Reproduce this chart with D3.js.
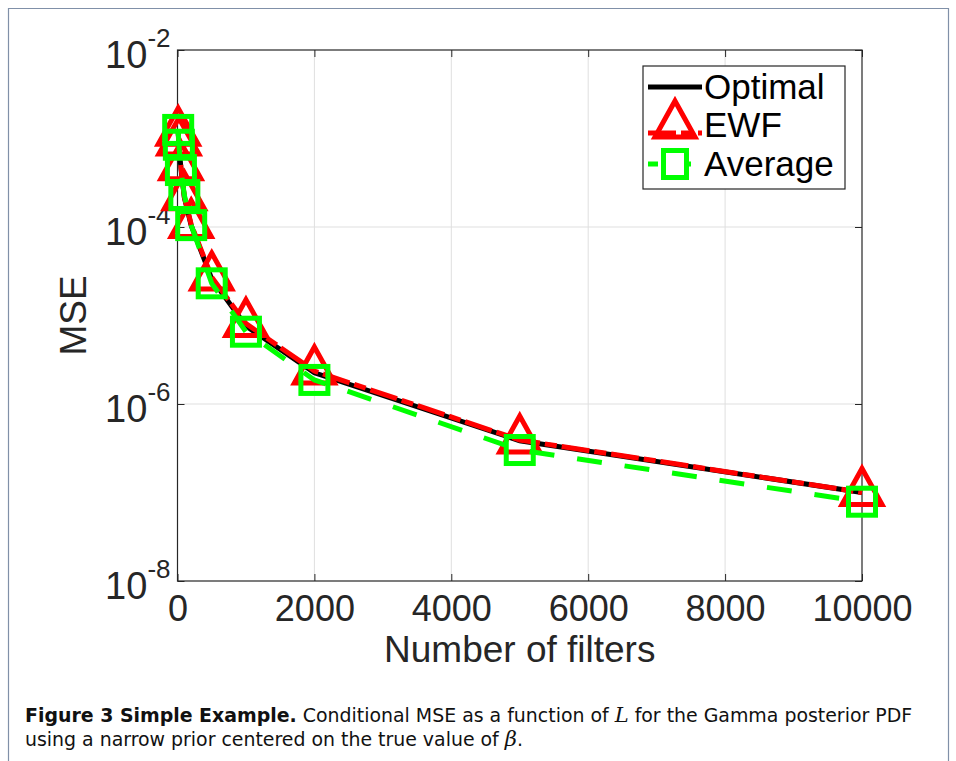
<!DOCTYPE html>
<html><head><meta charset="utf-8">
<script src="https://cdn.jsdelivr.net/npm/d3@7"></script>
<style>body{margin:0;background:#fff} svg{display:block}</style>
</head><body><svg id="c" width="956" height="761"></svg>
<script>
// ---- data ----
const filters = [10, 20, 50, 100, 200, 500, 1000, 2000, 5000, 10000];
const optimal = [1.15e-3, 8.8e-4, 4.6e-4, 2.15e-4, 1.04e-4, 2.6e-5, 7.6e-6, 2.25e-6, 3.85e-7, 1.0e-7];
const ewf     = [1.18e-3, 9.1e-4, 4.8e-4, 2.2e-4, 1.07e-4, 2.72e-5, 8.1e-6, 2.36e-6, 3.92e-7, 1.0e-7];
const average = [1.25e-3, 8.5e-4, 4.4e-4, 2.3e-4, 1.05e-4, 2.31e-5, 6.56e-6, 1.87e-6, 3.02e-7, 7.87e-8];
const xTicks = [0, 2000, 4000, 6000, 8000, 10000];
const yTickExps = [-8, -6, -4, -2];
const seriesNames = ["Optimal", "EWF", "Average"];

const svg = d3.select("#c");
const W = 956, H = 761;
svg.append("rect").attr("width", W).attr("height", H).attr("fill", "#fff");
// page frame
svg.append("path").attr("d", "M8.5,761 V8.5 H948.5 V761").attr("fill", "none")
  .attr("stroke", "#8090a8").attr("stroke-width", 1.2);

const L = 177.5, R = 862, T = 50, B = 581;
const x = d3.scaleLinear().domain([0, 10000]).range([L, R]);
const y = d3.scaleLog().domain([1e-8, 1e-2]).range([B, T]);
const font = "'Liberation Sans', Arial, Helvetica, sans-serif";
const axisCol = "#262626";

// grid
const g = svg.append("g");
g.selectAll(".gx").data(xTicks.slice(1, -1)).join("line")
  .attr("x1", d => x(d)).attr("x2", d => x(d)).attr("y1", T).attr("y2", B)
  .attr("stroke", "#dfdfdf").attr("stroke-width", 1);
g.selectAll(".gy").data(yTickExps.slice(1, -1)).join("line")
  .attr("y1", d => y(Math.pow(10, d))).attr("y2", d => y(Math.pow(10, d))).attr("x1", L).attr("x2", R)
  .attr("stroke", "#dfdfdf").attr("stroke-width", 1);

// axes (inward ticks)
const ax = svg.append("g").attr("transform", `translate(0,${B})`)
  .call(d3.axisBottom(x).tickValues(xTicks).tickSize(-7).tickPadding(14).tickFormat(d3.format("d")));
const axTop = svg.append("g").attr("transform", `translate(0,${T})`)
  .call(d3.axisTop(x).tickValues(xTicks).tickSize(-7).tickFormat(""));
const yv = yTickExps.map(e => Math.pow(10, e));
const ay = svg.append("g").attr("transform", `translate(${L},0)`)
  .call(d3.axisLeft(y).tickValues(yv).tickSize(-7).tickPadding(28).tickFormat(""));
const ayR = svg.append("g").attr("transform", `translate(${R},0)`)
  .call(d3.axisRight(y).tickValues(yv).tickSize(-7).tickFormat(""));
[ax, axTop, ay, ayR].forEach(a => {
  a.select(".domain").remove();
  a.selectAll("line").attr("stroke", axisCol);
});
ax.selectAll("text").attr("font-family", font).attr("font-size", 36).attr("fill", axisCol);
// y labels as 10^e
yTickExps.forEach(e => {
  const t = svg.append("text").attr("x", L - 7).attr("y", y(Math.pow(10, e)) + 18)
    .attr("text-anchor", "end").attr("font-family", font).attr("fill", axisCol).attr("font-size", 38);
  t.append("tspan").text("10");
  t.append("tspan").attr("dy", -21).attr("font-size", 26).text(String(e));
});
// box
svg.append("rect").attr("x", L).attr("y", T).attr("width", R - L).attr("height", B - T)
  .attr("fill", "none").attr("stroke", axisCol).attr("stroke-width", 1.2);

// axis titles
svg.append("text").attr("x", (L + R) / 2).attr("y", 662).attr("text-anchor", "middle")
  .attr("font-family", font).attr("font-size", 37).attr("fill", axisCol).text("Number of filters");
svg.append("text").attr("transform", `translate(86,${(T + B) / 2}) rotate(-90)`).attr("text-anchor", "middle")
  .attr("font-family", font).attr("font-size", 37).attr("fill", axisCol).text("MSE");

// lines
const line = vals => d3.line().x((d, i) => x(filters[i])).y(d => y(d))(vals);
const plot = svg.append("g");
plot.append("path").attr("d", line(optimal)).attr("fill", "none").attr("stroke", "#000")
  .attr("stroke-width", 5);
plot.append("path").attr("d", line(ewf)).attr("fill", "none").attr("stroke", "#ff0000")
  .attr("stroke-width", 5).attr("stroke-dasharray", "28,5,12,5");
const triPath = (cx, cy) => {
  const h = 36, w = 40;
  return `M${cx},${cy - 2 * h / 3} L${cx + w / 2},${cy + h / 3} L${cx - w / 2},${cy + h / 3} Z`;
};
plot.selectAll(".tri").data(ewf).join("path")
  .attr("d", (d, i) => triPath(x(filters[i]), y(d)))
  .attr("fill", "none").attr("stroke", "#ff0000").attr("stroke-width", 5).attr("stroke-linejoin", "miter");
plot.append("path").attr("d", line(average)).attr("fill", "none").attr("stroke", "#00ff00")
  .attr("stroke-width", 5).attr("stroke-dasharray", "25,23");
const S = 27;
plot.selectAll(".sq").data(average).join("rect")
  .attr("x", (d, i) => x(filters[i]) - S / 2).attr("y", d => y(d) - S / 2)
  .attr("width", S).attr("height", S)
  .attr("fill", "none").attr("stroke", "#00ff00").attr("stroke-width", 5);

// legend
const lg = svg.append("g");
lg.append("rect").attr("x", 643).attr("y", 66).attr("width", 202).attr("height", 123)
  .attr("fill", "#fff").attr("stroke", axisCol).attr("stroke-width", 1.2);
const rows = [87, 125, 164];
lg.append("line").attr("x1", 648).attr("x2", 702).attr("y1", rows[0]).attr("y2", rows[0])
  .attr("stroke", "#000").attr("stroke-width", 5);
lg.append("line").attr("x1", 648).attr("x2", 702).attr("y1", rows[1] + 8).attr("y2", rows[1] + 8)
  .attr("stroke", "#ff0000").attr("stroke-width", 5).attr("stroke-dasharray", "28,5,12,5");
lg.append("path").attr("d", triPath(675, rows[1])).attr("fill", "none").attr("stroke", "#ff0000").attr("stroke-width", 5);
lg.append("line").attr("x1", 648).attr("x2", 702).attr("y1", rows[2]).attr("y2", rows[2])
  .attr("stroke", "#00ff00").attr("stroke-width", 5).attr("stroke-dasharray", "10,23");
lg.append("rect").attr("x", 675 - S / 2 + 2).attr("y", rows[2] - S / 2).attr("width", S - 4).attr("height", S)
  .attr("fill", "#fff").attr("stroke", "#00ff00").attr("stroke-width", 5);
lg.selectAll(".lt").data(seriesNames).join("text")
  .attr("x", 704).attr("y", (d, i) => rows[i] + 12)
  .attr("font-family", font).attr("font-size", 35).attr("fill", "#000").text(d => d);

// caption
const capFont = "'DejaVu Sans Condensed', 'Liberation Sans', sans-serif";
const c1 = svg.append("text").attr("font-family", capFont).attr("font-size", 19.5).attr("fill", "#111");
c1.append("tspan").attr("font-weight", "bold").text("Figure 3 Simple Example.");
c1.append("tspan").text(" Conditional MSE as a function of ");
c1.append("tspan").attr("font-family", "'DejaVu Serif', serif").attr("font-style", "italic").text("L");
c1.append("tspan").text(" for the Gamma posterior PDF");
const c2 = svg.append("text").attr("font-family", capFont).attr("font-size", 19.5).attr("fill", "#111");
c2.append("tspan").text("using a narrow prior centered on the true value of ");
c2.append("tspan").attr("font-family", "'DejaVu Serif', serif").attr("font-style", "italic").text("β");
c2.append("tspan").text(".");
// fit caption width horizontally
const k = 888 / c1.node().getComputedTextLength();
c1.attr("transform", `translate(25,722) scale(${k},1)`);
c2.attr("transform", `translate(25,746) scale(${k},1)`);
</script></body></html>
